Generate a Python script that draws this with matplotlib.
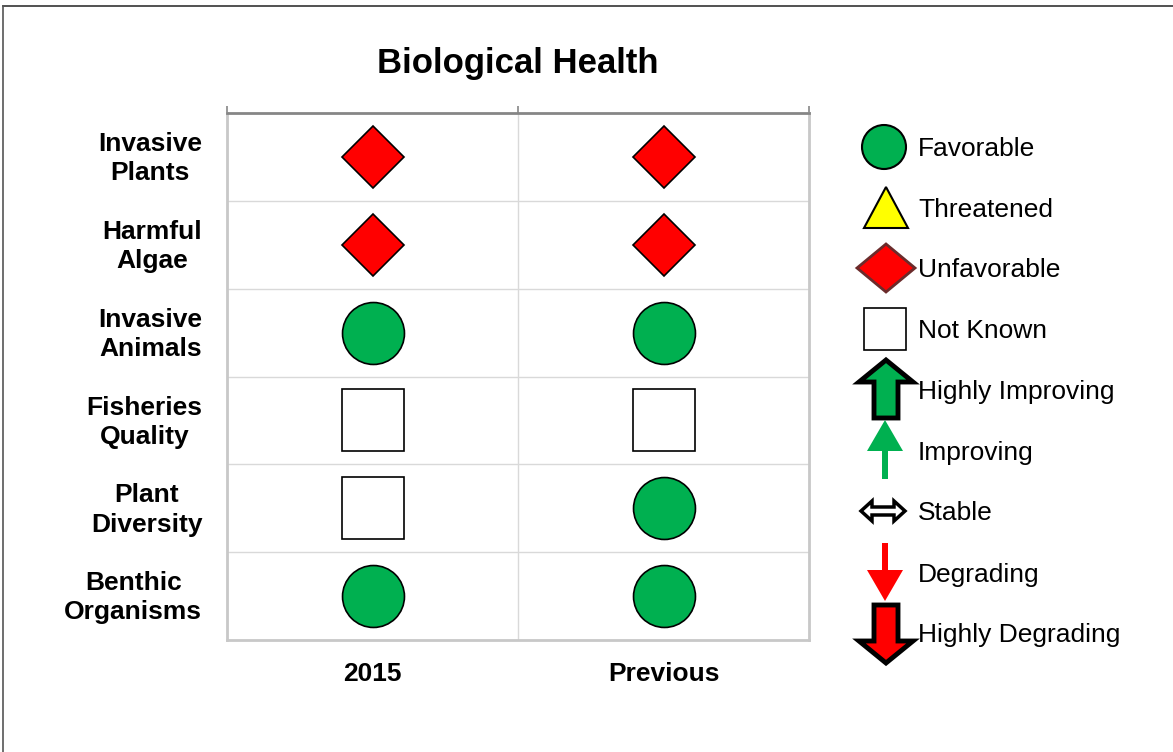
import matplotlib.pyplot as plt
from matplotlib.patches import Polygon, Circle
from matplotlib.lines import Line2D

plt.rcParams['font.family'] = ['Liberation Sans', 'DejaVu Sans']

# данные
rows = ['Invasive\nPlants', 'Harmful\nAlgae', 'Invasive\nAnimals',
        'Fisheries\nQuality', 'Plant\nDiversity', 'Benthic\nOrganisms']
columns = ['2015', 'Previous']
status_2015 = ['Unfavorable', 'Unfavorable', 'Favorable', 'Not Known', 'Not Known', 'Favorable']
status_prev = ['Unfavorable', 'Unfavorable', 'Favorable', 'Not Known', 'Favorable', 'Favorable']
legend_labels = ['Favorable', 'Threatened', 'Unfavorable', 'Not Known', 'Highly Improving',
                 'Improving', 'Stable', 'Degrading', 'Highly Degrading']

GREEN = '#00B050'
styles = {
    'Favorable': dict(marker='o', color=GREEN, ms=44.6),
    'Threatened': dict(marker='^', color='#FFFF00', ms=40),
    'Unfavorable': dict(marker='D', color='#FF0000', ms=31.5),
    'Not Known': dict(marker='s', color='white', ms=44.6),
}

W, H = 1173, 752
fig = plt.figure(figsize=(W / 100, H / 100), dpi=100)

# рамка рисунка (верх и левый край)
fig.add_artist(Line2D([3 / W, 1], [1 - 6 / H, 1 - 6 / H], color='#333333', lw=1.2))
fig.add_artist(Line2D([3 / W, 3 / W], [0, 1 - 6 / H], color='#555555', lw=1.2))

# основная таблица
ax = fig.add_axes([227 / W, 1 - 640 / H, 582 / W, 527 / H])
n = len(rows)
ax.set_xlim(0, len(columns))
ax.set_ylim(0, n)
for i in range(1, n):
    ax.axhline(i, color='#d9d9d9', lw=1)
ax.axvline(1, color='#d9d9d9', lw=1)
for side in ['left', 'right', 'bottom']:
    ax.spines[side].set_color('#c8c8c8')
    ax.spines[side].set_linewidth(2)
ax.spines['top'].set_color('#868686')
ax.spines['top'].set_linewidth(2)
ax.xaxis.tick_top()
ax.set_xticks([0, 1, 2])
ax.set_xticklabels([])
ax.tick_params(axis='x', direction='out', length=5, color='#868686', width=1.2)
ax.set_yticks([])

for j, statuses in enumerate([status_2015, status_prev]):
    for i, s in enumerate(statuses):
        st = styles[s]
        ax.plot(j + 0.5, n - i - 0.5, marker=st['marker'], ms=st['ms'],
                markerfacecolor=st['color'], markeredgecolor='black', mew=1.2,
                clip_on=False)
    ax.text(j + 0.5, -0.39, columns[j], ha='center', va='center',
            fontsize=19, fontweight='bold')

for i, name in enumerate(rows):
    ax.text(-0.085, n - i - 0.52, name, ha='right', va='center', multialignment='center',
            fontsize=19, fontweight='bold', linespacing=1.28)

fig.text(518 / W, 1 - 63 / H, 'Biological Health', ha='center', va='center',
         fontsize=25, fontweight='bold')

# легенда (координаты в пикселях)
lg = fig.add_axes([840 / W, 1 - 690 / H, 333 / W, 580 / H])
lg.set_xlim(840, 1173)
lg.set_ylim(690, 110)
lg.axis('off')

ix, tx = 885, 918
ys = [147, 208, 268, 329, 390, 451, 511, 573, 633]


def poly(pts, cx, cy, **kw):
    lg.add_patch(Polygon([(cx + x, cy + y) for x, y in pts], closed=True, **kw))


lg.add_patch(Circle((ix - 1, ys[0]), 22, fc=GREEN, ec='black', lw=1.5))
poly([(0, -21), (22, 20), (-22, 20)], ix + 1, ys[1], fc='#FFFF00', ec='black', lw=1.5)
poly([(0, -24), (29, 0), (0, 24), (-29, 0)], ix + 1, ys[2], fc='#FF0000', ec='#6b2b2b', lw=2)
poly([(-21, -21), (21, -21), (21, 21), (-21, 21)], ix, ys[3], fc='white', ec='black', lw=1.2)
up_block = [(0, -30), (27, -8), (12, -8), (12, 28), (-12, 28), (-12, -8), (-27, -8)]
poly(up_block, ix + 1, ys[4], fc=GREEN, ec='black', lw=3.5, joinstyle='miter')
poly([(0, -31), (18, 0), (3, 0), (3, 28), (-3, 28), (-3, 0), (-18, 0)],
     ix, ys[5], fc=GREEN, ec='none')
poly([(-22, 0), (-11, -10), (-11, -4), (11, -4), (11, -10), (22, 0), (11, 10), (11, 4),
      (-11, 4), (-11, 10)], ix - 2, ys[6], fc='white', ec='black', lw=2.5, joinstyle='miter')
poly([(0, 28), (18, -3), (3, -3), (3, -30), (-3, -30), (-3, -3), (-18, -3)],
     ix, ys[7], fc='#FF0000', ec='none')
down_block = [(x, -y) for x, y in up_block]
poly(down_block, ix + 1, ys[8], fc='#FF0000', ec='black', lw=3.5, joinstyle='miter')

for y, label in zip(ys, legend_labels):
    lg.text(tx, y + 2, label, ha='left', va='center', fontsize=19)

fig.savefig('out.png', dpi=100)
